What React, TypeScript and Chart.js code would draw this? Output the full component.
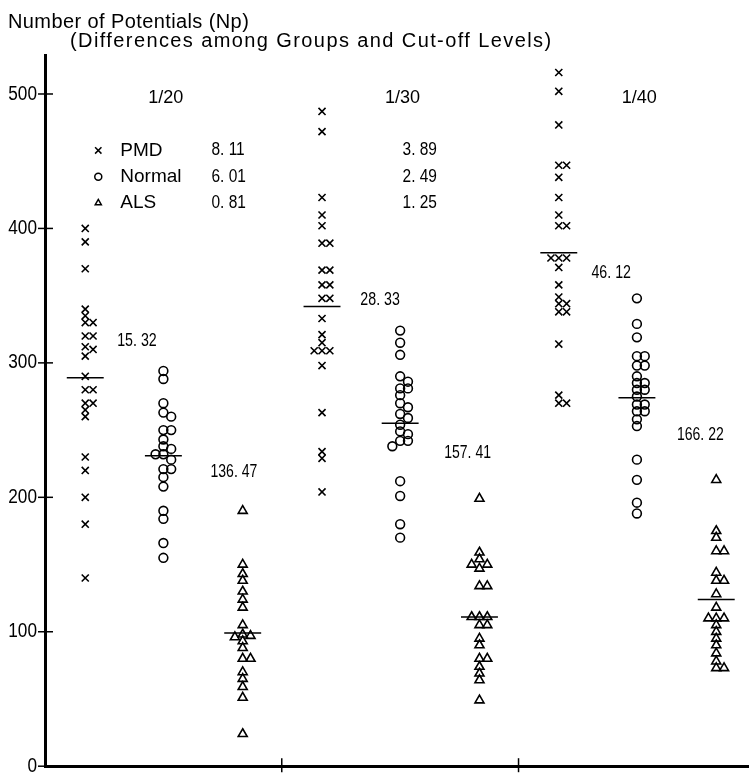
import { useEffect, useRef } from "react";
import { Chart, registerables } from "chart.js";

Chart.register(...registerables);

// ---------- data ----------
const cutoffLevels = ["1/20", "1/30", "1/40"];
const groupNames = ["PMD", "Normal", "ALS"];
const yTicks = [0, 100, 200, 300, 400, 500];

const pmd20 = [400, 390, 370, 340, 335, 330, 330, 320, 320, 312, 310, 305, 290, 280, 280, 270, 270, 265, 260, 230, 220, 200, 180, 140];
const normal20 = [294, 288, 270, 263, 260, 250, 250, 243, 238, 236, 232, 232, 228, 221, 221, 215, 208, 190, 184, 166, 155];
const als20 = [190, 150, 143, 138, 130, 124, 118, 105, 98, 97, 96, 93, 88, 80, 80, 70, 65, 59, 51, 24];

const pmd30 = [487, 472, 423, 410, 402, 389, 389, 369, 369, 358, 358, 348, 348, 333, 321, 315, 309, 309, 309, 298, 263, 234, 229, 204];
const normal30 = [324, 315, 306, 290, 286, 281, 281, 276, 270, 267, 262, 259, 254, 249, 247, 242, 242, 238, 212, 201, 180, 170];
const als30 = [199, 159, 154, 150, 150, 147, 134, 134, 111, 111, 111, 105, 105, 95, 90, 80, 80, 74, 69, 64, 49];

const pmd40 = [516, 502, 477, 447, 447, 438, 423, 410, 402, 402, 378, 378, 378, 371, 358, 349, 344, 344, 338, 338, 314, 276, 270, 270];
const normal40 = [348, 329, 319, 305, 305, 298, 298, 290, 285, 285, 280, 280, 275, 269, 269, 264, 264, 258, 253, 228, 213, 196, 188];
const als40 = [213, 175, 170, 160, 160, 144, 138, 138, 128, 118, 110, 110, 110, 105, 100, 95, 90, 84, 78, 73, 73];

const means20 = [289, 231, 99];
const means30 = [342, 255, 111];
const means40 = [382, 274, 124];

const fValues20 = ["8. 11", "6. 01", "0. 81"];
const fValues30 = ["3. 89", "2. 49", "1. 25"];
const pmdNormalValues = ["15. 32", "28. 33", "46. 12"];
const alsValues = ["136. 47", "157. 41", "166. 22"];

// ---------- layout (not data) ----------
const columnOffsets = [0.17, 0.5, 0.835];
const swarmDx = 0.033;
const swarmDv = 4.5;
const meanHalf = 0.078;
const legendRows = [458, 438.5, 419];
const pmdNormalPos = [
  { x: 0.305, y: 316 },
  { x: 1.332, y: 347 },
  { x: 2.308, y: 367 },
];
const alsPos = [
  { x: 0.699, y: 219 },
  { x: 1.686, y: 233 },
  { x: 2.669, y: 246.3 },
];

const SANS = "'Liberation Sans', Arial, 'DejaVu Sans', sans-serif";

function swarm(values: number[], center: number) {
  const sorted = [...values].sort((a, b) => b - a);
  const placed: { v: number; s: number }[] = [];
  const slots = [0, 1, -1, 2, -2];
  return sorted.map((v) => {
    const s = slots.find((sl) => !placed.some((p) => p.s === sl && Math.abs(p.v - v) < swarmDv)) ?? 0;
    placed.push({ v, s });
    return { x: center + s * swarmDx, y: v };
  });
}

const byLevel = [
  [pmd20, normal20, als20],
  [pmd30, normal30, als30],
  [pmd40, normal40, als40],
];
const meansByLevel = [means20, means30, means40];

function drawMarker(ctx: CanvasRenderingContext2D, kind: number, cx: number, cy: number, r: number) {
  ctx.beginPath();
  if (kind === 0) {
    const d = r * 0.707;
    ctx.moveTo(cx - d, cy - d);
    ctx.lineTo(cx + d, cy + d);
    ctx.moveTo(cx + d, cy - d);
    ctx.lineTo(cx - d, cy + d);
  } else if (kind === 1) {
    ctx.arc(cx, cy, r, 0, Math.PI * 2);
  } else {
    ctx.moveTo(cx, cy - r);
    ctx.lineTo(cx + r * 0.866, cy + r * 0.5);
    ctx.lineTo(cx - r * 0.866, cy + r * 0.5);
    ctx.closePath();
  }
  ctx.stroke();
}

function narrowText(
  ctx: CanvasRenderingContext2D,
  text: string,
  px: number,
  py: number,
  sx: number,
  align: CanvasTextAlign
) {
  ctx.save();
  ctx.translate(px, py);
  ctx.scale(sx, 1);
  ctx.textAlign = align;
  ctx.fillText(text, 0, 0);
  ctx.restore();
}

const overlay = {
  id: "overlay",
  afterDatasetsDraw(chart: any) {
    const { ctx } = chart;
    const x = chart.scales.x;
    const y = chart.scales.y;
    ctx.save();
    ctx.strokeStyle = "#000";
    ctx.fillStyle = "#000";

    // mean lines
    ctx.lineWidth = 1.5;
    meansByLevel.forEach((means, g) =>
      means.forEach((m, i) => {
        const cx = g + columnOffsets[i];
        const py = y.getPixelForValue(m);
        ctx.beginPath();
        ctx.moveTo(x.getPixelForValue(cx - meanHalf), py);
        ctx.lineTo(x.getPixelForValue(cx + meanHalf), py);
        ctx.stroke();
      })
    );

    // y tick marks (crossing) and labels
    ctx.lineWidth = 1.5;
    ctx.textBaseline = "middle";
    ctx.font = `20px ${SANS}`;
    yTicks.forEach((v) => {
      const py = y.getPixelForValue(v);
      ctx.beginPath();
      ctx.moveTo(x.left - 7, py);
      ctx.lineTo(x.left + 8, py);
      ctx.stroke();
      narrowText(ctx, String(v), x.left - 8, py, 0.86, "right");
    });
    // x tick marks at group boundaries
    [1, 2].forEach((v) => {
      const px = x.getPixelForValue(v);
      ctx.beginPath();
      ctx.moveTo(px, y.bottom - 8);
      ctx.lineTo(px, y.bottom + 6);
      ctx.stroke();
    });

    // cut-off level labels
    ctx.font = `19px ${SANS}`;
    cutoffLevels.forEach((lab, g) => {
      narrowText(ctx, lab, x.getPixelForValue(g + 0.51), y.getPixelForValue(497), 0.95, "center");
    });

    // legend
    groupNames.forEach((name, i) => {
      const py = y.getPixelForValue(legendRows[i]);
      ctx.lineWidth = 1.5;
      drawMarker(ctx, i, x.getPixelForValue(0.225), py, i === 0 ? 4.5 : 3.5);
      ctx.font = `19px ${SANS}`;
      narrowText(ctx, name, x.getPixelForValue(0.318), py, 1, "left");
      ctx.font = `18px ${SANS}`;
      narrowText(ctx, fValues20[i], x.getPixelForValue(0.703), py, 0.86, "left");
      narrowText(ctx, fValues30[i], x.getPixelForValue(1.51), py, 0.86, "left");
    });

    // comparison values
    ctx.font = `18px ${SANS}`;
    pmdNormalValues.forEach((t, i) => {
      narrowText(ctx, t, x.getPixelForValue(pmdNormalPos[i].x), y.getPixelForValue(pmdNormalPos[i].y), 0.79, "left");
    });
    alsValues.forEach((t, i) => {
      narrowText(ctx, t, x.getPixelForValue(alsPos[i].x), y.getPixelForValue(alsPos[i].y), 0.78, "left");
    });

    // titles
    ctx.textBaseline = "alphabetic";
    ctx.textAlign = "left";
    ctx.font = `20px ${SANS}`;
    (ctx as any).letterSpacing = "0.4px";
    ctx.fillText("Number of Potentials (Np)", 8, 28);
    (ctx as any).letterSpacing = "1.4px";
    ctx.fillText("(Differences among Groups and Cut-off Levels)", 70, 47);
    (ctx as any).letterSpacing = "0px";
    ctx.restore();
  },
};

export default function App() {
  const ref = useRef<HTMLCanvasElement | null>(null);
  useEffect(() => {
    if (!ref.current) return;
    const styles = ["crossRot", "circle", "triangle"];
    const radii = [5, 4.4, 5.2];
    const datasets = groupNames.map((name, i) => ({
      label: name,
      data: byLevel.flatMap((cols, g) => swarm(cols[i], g + columnOffsets[i])),
      pointStyle: styles[i],
      pointRadius: radii[i],
      borderColor: "#000",
      backgroundColor: "rgba(0,0,0,0)",
      borderWidth: 1.6,
      showLine: false,
    }));
    const chart = new Chart(ref.current, {
      type: "scatter",
      data: { datasets },
      options: {
        animation: false,
        responsive: false,
        layout: { padding: { top: 55, left: 0, right: 0, bottom: 0 } },
        plugins: { legend: { display: false }, tooltip: { enabled: false } },
        scales: {
          x: {
            type: "linear",
            min: 0,
            max: 2.97,
            grid: { display: false, drawTicks: false },
            ticks: { display: false },
            border: { display: true, width: 3, color: "#000" },
            afterFit: (s: any) => {
              s.height = 5;
            },
          },
          y: {
            type: "linear",
            min: 0,
            max: 529,
            grid: { display: false, drawTicks: false },
            border: { display: true, width: 3, color: "#000" },
            afterBuildTicks: (s: any) => {
              s.ticks = yTicks.map((v) => ({ value: v }));
            },
            ticks: { display: false },
            afterFit: (s: any) => {
              s.width = 45;
            },
          },
        },
      },
      plugins: [overlay],
    });
    return () => chart.destroy();
  }, []);
  return (
    <div style={{ position: "absolute", left: 0, top: 0, width: 755, height: 773, background: "#fff" }}>
      <canvas ref={ref} width={755} height={773} style={{ width: 755, height: 773, display: "block" }} />
    </div>
  );
}
